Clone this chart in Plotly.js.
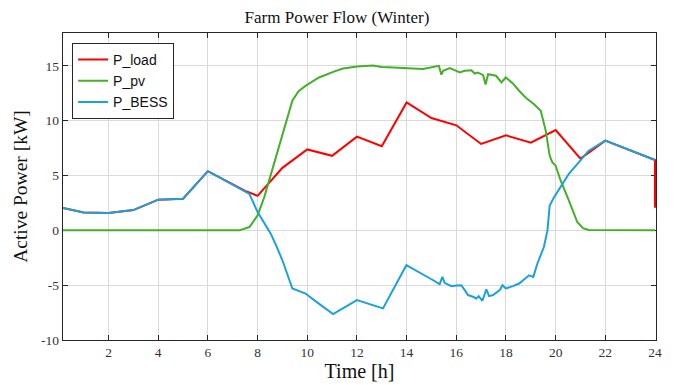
<!DOCTYPE html>
<html>
<head>
<meta charset="utf-8">
<script src="https://cdn.plot.ly/plotly-3.0.1.min.js"></script>
<style>html,body{margin:0;padding:0;background:#fff;}#chart{width:674px;height:385px;}</style>
</head>
<body>
<div id="chart"></div>
<script>
// Load (hourly, piecewise linear) with final drop at 24 h
const tLoad = [0.1667, 1, 2, 3, 4, 5, 6, 7, 7.5, 8, 9, 10, 11, 12, 13, 14, 15, 16, 17, 18, 19, 20, 21, 22, 23, 24, 24];
const pLoad = [2.03, 1.64, 1.58, 1.85, 2.8, 2.88, 5.4, 4.15, 3.6, 3.15, 5.7, 7.38, 6.8, 8.55, 7.67, 11.66, 10.24, 9.58, 7.88, 8.66, 8.0, 9.15, 6.55, 8.18, 7.3, 6.42, 2.06];

// PV generation
const tPv = [0.1667, 7.27, 7.67, 8.0, 8.27, 8.53, 8.87, 9.2, 9.4, 9.65, 9.93, 10.47, 10.78, 11.1, 11.44, 12.0, 12.65, 12.99, 13.46, 14.02, 14.66, 15.3, 15.4, 15.47, 15.74, 16.0, 16.14, 16.34, 16.61, 16.74, 16.87, 17.08, 17.18, 17.28, 17.6, 17.82, 17.99, 18.28, 18.5, 18.8, 19.13, 19.4, 19.6, 19.76, 19.87, 20.0, 20.2, 20.53, 20.87, 21.1, 21.33, 24];
const pPv = [0, 0, 0.3, 1.36, 3.03, 5.0, 7.58, 10.3, 11.82, 12.7, 13.18, 13.94, 14.24, 14.5, 14.76, 14.94, 15.03, 14.91, 14.85, 14.76, 14.72, 15.0, 14.2, 14.55, 14.8, 14.55, 14.4, 14.55, 14.6, 14.3, 14.4, 14.15, 13.3, 14.24, 14.1, 13.5, 13.94, 13.4, 12.8, 12.1, 11.5, 10.9, 9.1, 6.8, 6.2, 5.9, 4.55, 2.73, 0.76, 0.2, 0.03, 0];

// Battery power
const tBess = [0.1667, 1, 2, 3, 4, 5, 6, 7, 7.3, 7.67, 8.0, 8.27, 8.53, 8.75, 9.0, 9.4, 9.93, 10.37, 11.04, 12.0, 13.05, 13.99, 14.73, 15.07, 15.33, 15.44, 15.53, 15.8, 16.0, 16.2, 16.34, 16.47, 16.67, 16.81, 16.9, 17.05, 17.21, 17.32, 17.48, 17.75, 17.86, 17.99, 18.28, 18.53, 18.93, 19.1, 19.27, 19.53, 19.67, 19.76, 19.93, 20.2, 20.53, 20.93, 21.33, 22.0, 23, 24];
const pBess = [2.03, 1.64, 1.58, 1.85, 2.8, 2.88, 5.4, 4.15, 3.79, 3.33, 1.67, 0.6, -0.3, -1.4, -2.73, -5.3, -5.76, -6.52, -7.64, -6.36, -7.12, -3.18, -4.09, -4.55, -4.91, -4.24, -4.78, -5.09, -5.02, -5.0, -5.45, -5.9, -6.06, -6.21, -6.0, -6.42, -5.39, -6.0, -5.9, -5.45, -5.0, -5.3, -5.09, -4.85, -4.1, -4.24, -3.0, -1.5, 0, 2.27, 3.0, 3.94, 5.15, 6.2, 7.27, 8.18, 7.3, 6.42];

const xTicks = [2, 4, 6, 8, 10, 12, 14, 16, 18, 20, 22, 24];
const yTicks = [-10, -5, 0, 5, 10, 15];
const seriesNames = ['P_load', 'P_pv', 'P_BESS'];

const serif = 'Liberation Serif, DejaVu Serif, serif';
const sans = 'Liberation Sans, Arial, sans-serif';

const traces = [
  {x: tLoad, y: pLoad, name: seriesNames[0], mode: 'lines', line: {color: '#ff0000', width: 2}},
  {x: tPv, y: pPv, name: seriesNames[1], mode: 'lines', line: {color: '#43b02a', width: 2}},
  {x: tBess, y: pBess, name: seriesNames[2], mode: 'lines', line: {color: '#1ba1dc', width: 2}}
];

const axisCommon = {
  ticks: 'inside', ticklen: 5, tickwidth: 1, tickcolor: '#262626',
  showline: true, mirror: 'ticks', linecolor: '#262626', linewidth: 1.2,
  showgrid: true, gridcolor: '#dadada', gridwidth: 1, zeroline: false,
  layer: 'below traces',
  tickfont: {family: serif, size: 13.5, color: '#333'}
};

const layout = {
  width: 674, height: 385,
  margin: {l: 63, r: 18, t: 33, b: 45},
  paper_bgcolor: '#fff', plot_bgcolor: '#fff',
  title: {text: 'Farm Power Flow (Winter)', font: {family: serif, size: 17, color: '#111'},
          x: 0.5, xanchor: 'center', y: 0.956, yref: 'container', yanchor: 'middle'},
  xaxis: Object.assign({}, axisCommon, {
    range: [0.1667, 24.04], tickmode: 'array', tickvals: xTicks, ticktext: xTicks.map(String),
    title: {text: 'Time [h]', font: {family: serif, size: 20, color: '#111'}, standoff: 4}
  }),
  yaxis: Object.assign({}, axisCommon, {
    range: [-10, 18], tickmode: 'array', tickvals: yTicks, ticktext: yTicks.map(String),
    title: {text: 'Active Power [kW]', font: {family: serif, size: 19.5, color: '#111'}, standoff: 8}
  }),
  showlegend: true,
  legend: {x: 0.015, y: 0.968, xanchor: 'left', yanchor: 'top', bgcolor: '#fff',
           bordercolor: '#262626', borderwidth: 1.2, font: {family: sans, size: 14, color: '#111'},
           tracegroupgap: 0, itemwidth: 30}
};

Plotly.newPlot('chart', traces, layout, {displayModeBar: false, staticPlot: true});
</script>
</body>
</html>
